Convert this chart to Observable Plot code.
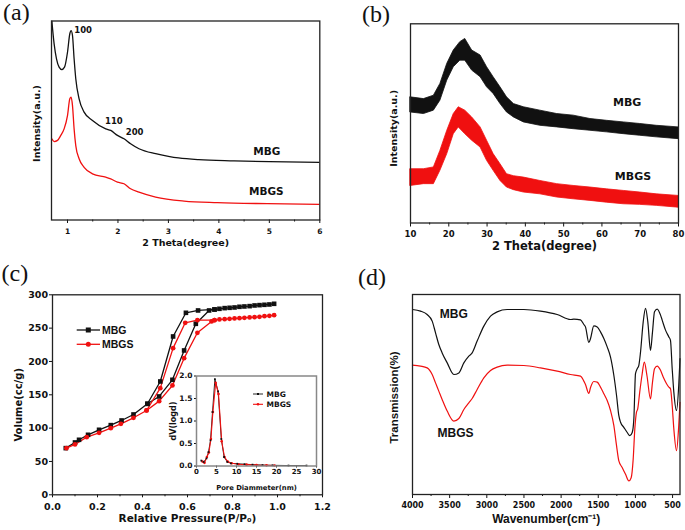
<!DOCTYPE html>
<html><head><meta charset="utf-8">
<script src="https://cdn.jsdelivr.net/npm/d3@7"></script>
<script src="https://cdn.jsdelivr.net/npm/@observablehq/plot@0.6"></script>
<style>
body{margin:0;background:#fff;}
#fig{position:relative;width:685px;height:530px;overflow:hidden;background:#fff;}
</style></head><body><div id="fig"></div>
<script>
// ---------- Panel (a): small-angle XRD ----------
const aThetaMBG = [0.69,0.735,0.782,0.834,0.887,0.941,1.0,1.046,1.071,1.099,1.131,1.164,1.23,1.329,1.495,1.758,1.857,1.99,2.12,2.25,2.417,2.747,3.0,3.2,3.6,4.3,5.0,6.0];
const aIntMBG   = [100,88.5,81,76.8,75.6,76.8,84.3,93.6,95.2,92.7,81,71,60.9,54.2,50,45.8,45,42.5,40.8,38.3,35.8,33.3,32,31.2,30.3,29.7,29.3,29.0];
const aThetaMBGS = [0.69,0.735,0.802,0.867,0.933,1.0,1.046,1.071,1.099,1.131,1.164,1.23,1.329,1.495,1.758,1.857,1.99,2.12,2.25,2.417,2.747,3.31,3.97,4.96,6.0];
const aIntMBGS   = [40.8,39.4,40,42.5,45.8,52.5,60.9,61.7,57.5,45.8,37.4,30.8,26.5,23.2,21.5,20.7,19,18.2,15.7,14,11.5,9.5,8.7,8.2,7.9];
const aTicks = [1,2,3,4,5,6];
const aMinorTicks = [1.5,2.5,3.5,4.5,5.5];
const aPeakText = ["100","110","200"];
const aPeakX = [1.31,1.92,2.33];
const aPeakY = [95.4,49.5,44.3];
const aSampleText = ["MBG","MBGS"];
const aSampleX = [4.95,4.94];
const aSampleY = [34.5,14.4];

// ---------- Panel (b): wide-angle XRD (noise band envelopes) ----------
const bThetaMBG = [10,13.5,16.1,17.8,19.6,21.3,23.0,24.3,26.1,28.3,30.0,31.7,33.5,35.2,37.0,39.6,43.9,48.3,52.6,57.0,61.3,65.7,70.0,74.3,80];
const bMBGHi = [63.1,62.2,63.9,69.8,79.9,86.6,90.8,92.4,86.6,84.1,78.2,73.2,68.1,63.1,59.7,58.1,56.4,54.7,53.9,52.2,51.3,50.5,49.7,48.8,48];
const bMBGLo = [55.5,54.7,56.4,61.4,71.5,78.2,81.5,81.5,76.5,73.2,68.1,64.8,59.7,55.5,53,50.5,48.8,48,47.1,46.3,45.5,44.6,43.8,43,42.1];
const bThetaMBGS = [10,13.5,16.1,17.8,19.6,21.3,22.6,24.3,26.1,28.3,30.0,31.7,33.5,35.2,37.0,39.6,43.9,48.3,52.6,57.0,61.3,65.7,70.0,74.3,80];
const bMBGSHi = [27,27,27.9,36.2,46.3,54.7,58.1,56.4,53,48,41.3,34.6,29.5,24.5,23.5,22.8,21.1,19.5,18.6,17.8,16.9,16.1,15.3,14.4,13.6];
const bMBGSLo = [18.6,19.5,19.5,26.2,34.6,44.6,48,44.6,41.3,37.9,31.2,26.2,21.1,17.8,16.5,15.3,14.4,12.8,11.9,11.1,10.2,9.4,9.1,8.6,7.7];
const bTicks = [10,20,30,40,50,60,70,80];
const bMinorTicks = [15,25,35,45,55,65,75];
const bSampleText = ["MBG","MBGS"];
const bSampleX = [66.6,68.1];
const bSampleY = [60.4,23.5];

// ---------- Panel (c): N2 isotherms ----------
const cAdsP_MBG = [0.059,0.1,0.118,0.158,0.207,0.259,0.307,0.36,0.422,0.474,0.533,0.585,0.637,0.696,0.72,0.742,0.765,0.787,0.809,0.831,0.853,0.876,0.898,0.92,0.942,0.964,0.985];
const cAdsV_MBG = [70,78.5,82.5,90,97.5,104.5,111.5,120.5,136.5,147.5,172.5,216.5,256.5,276.5,278,279,280,280.5,281,282,282.5,283,284,284.5,285,285.5,286.5];
const cDesP_MBG = [0.72,0.647,0.593,0.536,0.479,0.422];
const cDesV_MBG = [278,276.5,273,237.5,170,136.5];
const cAdsP_MBGS = [0.062,0.1,0.152,0.207,0.259,0.304,0.36,0.418,0.474,0.533,0.585,0.644,0.707,0.72,0.742,0.765,0.787,0.809,0.831,0.853,0.876,0.898,0.92,0.942,0.964,0.985];
const cAdsV_MBGS = [70,75.5,86.5,93,100,106.5,115.5,126.5,140.5,164,205,243,260,262,263,263.5,264,264.5,265,265.5,266,266.5,267,268,268.5,269.5];
const cDesP_MBGS = [0.72,0.644,0.59,0.536,0.479,0.418];
const cDesV_MBGS = [262,262,258,220,160,126.5];
const cXTicks = [0,0.2,0.4,0.6,0.8,1.0,1.2];
const cXMinor = [0.1,0.3,0.5,0.7,0.9,1.1];
const cYTicks = [0,50,100,150,200,250,300];
// inset: pore size distribution
const iD_MBG = [1.2,1.8,2.5,3.0,3.5,4.0,4.6,5.4,6.2,6.9,7.7,8.6,10.2,12,14,16.5,19,23,27.5];
const iV_MBG = [0.12,0.09,0.17,0.31,0.57,1.2,1.93,1.66,0.6,0.2,0.09,0.06,0.05,0.04,0.03,0.02,0.015,0.01,0.01];
const iD_MBGS = [1.5,2.0,2.6,3.1,3.6,4.1,4.8,5.5,6.3,7.0,7.8,8.8,10.5,12.5,15,17.5,19.5];
const iV_MBGS = [0.1,0.07,0.2,0.3,0.6,1.2,1.85,1.6,0.55,0.2,0.1,0.06,0.04,0.03,0.02,0.015,0.01];
const iXTicks = [0,5,10,15,20,25,30];
const iYTicks = [0,0.5,1.0,1.5,2.0];

// ---------- Panel (d): FTIR ----------
const dWnMBG = [4000,3892,3803,3735,3690,3646,3601,3533,3444,3376,3309,3242,3197,3130,3040,2950,2861,2726,2502,2277,2053,1874,1829,1739,1694,1672,1627,1604,1560,1514,1470,1425,1380,1335,1290,1254,1223,1200,1156,1110,1075,1043,1021,999,976,954,931,895,864,833,797,770,743,707,662,640,595,550,528,505,483,447,417,400];
const dTMBG  = [92.5,91.7,90,86.7,80.8,75,70.8,65.8,60,60.8,65.8,69.2,70.8,76.7,84.2,89.2,91.3,92.5,92.5,91.7,90,87.5,87.7,87.3,85,83.8,76,78,84.3,83.8,81.3,78,73.8,68.7,59.5,49.5,39.4,36.1,33.6,31,29.4,31,37.8,60.4,62.9,64.6,71.3,86.3,93.1,86.3,72.1,81.3,91.4,92.7,89.7,87.2,82.2,78.8,77.1,62.9,51.2,42,54.5,67.9];
const dWnMBGS = [4000,3892,3803,3735,3690,3646,3601,3533,3444,3376,3309,3242,3197,3130,3040,2950,2861,2726,2502,2277,2053,1874,1739,1694,1672,1627,1604,1560,1514,1470,1425,1380,1335,1290,1254,1223,1178,1133,1088,1057,1030,1008,986,969,942,912,880,845,797,770,743,707,662,626,581,550,528,505,483,447,417,400];
const dTMBGS  = [64.7,64.2,63.3,60,55.8,51.7,47.5,41.7,36.7,38,42.5,45.8,48,52.5,58.3,62,63.7,64.7,64.5,63.3,61.7,60,59.2,56.7,55,50.5,53.5,56.5,56.2,53.7,50.4,47,42,34.4,24.4,16.8,13.5,10.1,6.8,8.4,17.7,32.8,41.1,42.8,51.2,59.5,66.2,59.5,47.8,56.2,62.9,64.2,62.1,58.7,55.4,53.7,52.9,44.5,32.8,21.9,34.4,46.1];
const dTicks = [4000,3500,3000,2500,2000,1500,1000,500];
const dMinorTicks = [3750,3250,2750,2250,1750,1250,750];
const dSampleText = ["MBG","MBGS"];
const dSampleX = [3444,3421];
const dSampleY = [90.1,30.7];

// ---------- helpers ----------
const DV = "'DejaVu Sans', sans-serif";
const LS = "'Liberation Sans', Arial, sans-serif";
const zipXY = (xs, ys) => xs.map((x, i) => ({x, y: ys[i]}));
const zipBand = (xs, lo, hi) => xs.map((x, i) => ({x, lo: lo[i], hi: hi[i]}));
const zipText = (t, xs, ys) => t.map((s, i) => ({t: s, x: xs[i], y: ys[i]}));
const style = (font) => ({fontFamily: font, fontWeight: "bold", color: "#111", background: "transparent", overflow: "visible"});
const fig = document.getElementById("fig");
function place(el, left, top) { el.style.position = "absolute"; el.style.left = left + "px"; el.style.top = top + "px"; fig.appendChild(el); }
const FRAME = {stroke: "#222", strokeWidth: 1.3};
const BLACK = "#111", RED = "#f01010";
const xTitle = (s, dy, fontSize) => Plot.text([s], {frameAnchor: "bottom", dy, fontSize, text: d => d, textAnchor: "middle", lineAnchor: "middle"});
const yTitle = (s, dx, dy, fontSize) => Plot.text([s], {frameAnchor: "left", dx, dy, rotate: -90, fontSize, text: d => d, textAnchor: "middle", lineAnchor: "middle"});

// ---------- (a) ----------
place(Plot.plot({
  width: 340, height: 260, marginLeft: 51, marginRight: 20.7, marginTop: 20.5, marginBottom: 40.5,
  style: style(DV),
  x: {domain: [0.683, 6]},
  y: {domain: [0, 100], axis: null},
  marks: [
    Plot.line(zipXY(aThetaMBG, aIntMBG), {x: "x", y: "y", stroke: BLACK, strokeWidth: 1.3, curve: "monotone-x", clip: true}),
    Plot.line(zipXY(aThetaMBGS, aIntMBGS), {x: "x", y: "y", stroke: RED, strokeWidth: 1.3, curve: "monotone-x", clip: true}),
    Plot.text(zipText(aPeakText, aPeakX, aPeakY), {x: "x", y: "y", text: "t", fontSize: 8.5, fill: BLACK}),
    Plot.text(zipText(aSampleText, aSampleX, aSampleY), {x: "x", y: "y", text: "t", fontSize: 10.5, fill: BLACK}),
    Plot.axisX(aTicks, {tickSize: 3.5, tickPadding: 5, fontSize: 7.5, label: null, tickFormat: d => String(d)}),
    Plot.axisX(aMinorTicks, {tickSize: 2, tickFormat: () => "", label: null}),
    xTitle("2 Theta(degree)", 22.5, 9.5),
    yTitle("Intensity(a.u.)", -15, 3, 9.5),
    Plot.frame(FRAME)
  ]
}), 0, 0);

// ---------- (b) ----------
place(Plot.plot({
  width: 345, height: 260, marginLeft: 70, marginRight: 7, marginTop: 23.3, marginBottom: 37.5,
  style: style(DV),
  x: {domain: [10, 80]},
  y: {domain: [0, 100], axis: null},
  marks: [
    Plot.areaY(zipBand(bThetaMBG, bMBGLo, bMBGHi), {x: "x", y1: "lo", y2: "hi", fill: BLACK, stroke: BLACK, strokeWidth: 0.8}),
    Plot.areaY(zipBand(bThetaMBGS, bMBGSLo, bMBGSHi), {x: "x", y1: "lo", y2: "hi", fill: RED, stroke: RED, strokeWidth: 0.8}),
    Plot.text(zipText(bSampleText, bSampleX, bSampleY), {x: "x", y: "y", text: "t", fontSize: 11, fill: BLACK}),
    Plot.axisX(bTicks, {tickSize: 4, tickPadding: 4, fontSize: 8.5, label: null, tickFormat: d => String(d)}),
    Plot.axisX(bMinorTicks, {tickSize: 2, tickFormat: () => "", label: null}),
    xTitle("2 Theta(degree)", 23, 11.5),
    yTitle("Intensity(a.u.)", -17, 5, 9.5),
    Plot.frame(FRAME)
  ]
}), 340, 0);

// ---------- (c) ----------
const cAdsMBG = zipXY(cAdsP_MBG, cAdsV_MBG), cDesMBG = zipXY(cDesP_MBG, cDesV_MBG);
const cAdsMBGS = zipXY(cAdsP_MBGS, cAdsV_MBGS), cDesMBGS = zipXY(cDesP_MBGS, cDesV_MBGS);
place(Plot.plot({
  width: 340, height: 270, marginLeft: 52, marginRight: 18, marginTop: 34.3, marginBottom: 35.7,
  style: style(DV),
  x: {domain: [0, 1.2]},
  y: {domain: [0, 300]},
  marks: [
    Plot.line(cAdsMBG, {x: "x", y: "y", stroke: BLACK, strokeWidth: 1.3}),
    Plot.line(cDesMBG, {x: "x", y: "y", stroke: BLACK, strokeWidth: 1.3}),
    Plot.line(cAdsMBGS, {x: "x", y: "y", stroke: RED, strokeWidth: 1.3}),
    Plot.line(cDesMBGS, {x: "x", y: "y", stroke: RED, strokeWidth: 1.3}),
    Plot.dot(cAdsMBG.concat(cDesMBG), {x: "x", y: "y", symbol: "square", r: 2.6, fill: BLACK}),
    Plot.dot(cAdsMBGS.concat(cDesMBGS), {x: "x", y: "y", symbol: "circle", r: 2.4, fill: RED}),
    Plot.axisX(cXTicks, {tickSize: 3, tickPadding: 5, fontSize: 9.5, label: null, tickFormat: d3.format(".1f")}),
    Plot.axisX(cXMinor, {tickSize: 2, tickFormat: () => "", label: null}),
    Plot.axisY(cYTicks, {tickSize: 3, tickPadding: 1.5, fontSize: 9.5, label: null, tickFormat: d => String(d)}),
    xTitle("Relative Pressure(P/P\u2080)", 23.7, 10.5),
    yTitle("Volume(cc/g)", -34, 10, 10),
    Plot.frame(FRAME)
  ]
}), 0, 260);

// inset
place(Plot.plot({
  width: 165, height: 130, marginLeft: 36, marginRight: 9, marginTop: 7.5, marginBottom: 32.5,
  style: style(DV),
  x: {domain: [0, 30]},
  y: {domain: [0, 2.0]},
  marks: [
    Plot.line(zipXY(iD_MBG, iV_MBG), {x: "x", y: "y", stroke: BLACK, strokeWidth: 0.9}),
    Plot.line(zipXY(iD_MBGS, iV_MBGS), {x: "x", y: "y", stroke: RED, strokeWidth: 1.1}),
    Plot.dot(zipXY(iD_MBGS, iV_MBGS), {x: "x", y: "y", r: 1.3, fill: RED}),
    Plot.dot(zipXY(iD_MBG, iV_MBG), {x: "x", y: "y", symbol: "square", r: 1.0, fill: BLACK}),
    Plot.axisX(iXTicks, {tickSize: 2, tickPadding: 1, fontSize: 7, label: null, tickFormat: d => String(d)}),
    Plot.axisY(iYTicks, {tickSize: 2, tickPadding: 2, fontSize: 7.5, label: null, tickFormat: d3.format(".1f")}),
    xTitle("Pore Diammeter(nm)", 22, 6.8),
    yTitle("dV(logd)", -23, 0, 8),
    Plot.frame({stroke: "#888", strokeWidth: 1.5})
  ]
}), 160, 368);

// ---------- (d) ----------
place(Plot.plot({
  width: 345, height: 270, marginLeft: 72, marginRight: 5.5, marginTop: 34, marginBottom: 36,
  style: style(LS),
  x: {domain: [4000, 400]},
  y: {domain: [0, 100], axis: null},
  marks: [
    Plot.line(zipXY(dWnMBG, dTMBG), {x: "x", y: "y", stroke: BLACK, strokeWidth: 1.2, curve: "monotone-x"}),
    Plot.line(zipXY(dWnMBGS, dTMBGS), {x: "x", y: "y", stroke: RED, strokeWidth: 1.2, curve: "monotone-x"}),
    Plot.text(zipText(dSampleText, dSampleX, dSampleY), {x: "x", y: "y", text: "t", fontSize: 12, fill: BLACK}),
    Plot.axisX(dTicks, {tickSize: 4, tickPadding: 4, fontSize: 8, fontFamily: DV, label: null, tickFormat: d => String(d)}),
    Plot.axisX(dMinorTicks, {tickSize: 2, tickFormat: () => "", label: null}),
    xTitle("Wavenumber(cm\u207B\u00B9)", 25, 12),
    yTitle("Transmission(%)", -18, 3, 11.5),
    Plot.frame(FRAME)
  ]
}), 340, 260);

// ---------- overlay: panel letters and legends ----------
const ov = document.createElementNS("http://www.w3.org/2000/svg", "svg");
ov.setAttribute("width", 685); ov.setAttribute("height", 530);
ov.style.pointerEvents = "none";
ov.innerHTML = `
<g font-family="'Liberation Serif','Times New Roman',serif" font-size="24" fill="#111">
  <text x="3" y="20">(a)</text>
  <text x="362" y="21.5">(b)</text>
  <text x="1.5" y="281">(c)</text>
  <text x="358" y="284.5">(d)</text>
</g>
<g font-family="'Liberation Sans',Arial,sans-serif" font-weight="bold" font-size="10.5" fill="#111">
  <line x1="76.7" x2="100" y1="330" y2="330" stroke="#111" stroke-width="1.3"/>
  <rect x="85.8" y="327.5" width="5" height="5" fill="#111"/>
  <text x="102" y="334">MBG</text>
  <line x1="76.7" x2="100" y1="344.3" y2="344.3" stroke="${RED}" stroke-width="1.3"/>
  <circle cx="88.3" cy="344.3" r="2.5" fill="${RED}"/>
  <text x="102" y="348.2">MBGS</text>
</g>
<g font-family="'DejaVu Sans',sans-serif" font-weight="bold" font-size="7.5" fill="#111">
  <line x1="253" x2="263" y1="394" y2="394" stroke="#111" stroke-width="0.9"/>
  <rect x="257" y="393" width="2" height="2" fill="#111"/>
  <text x="266.5" y="396.8">MBG</text>
  <line x1="253" x2="263" y1="404.3" y2="404.3" stroke="${RED}" stroke-width="1.1"/>
  <circle cx="258" cy="404.3" r="1.3" fill="${RED}"/>
  <text x="266.5" y="407.1">MBGS</text>
</g>`;
place(ov, 0, 0);
</script>
</body></html>
